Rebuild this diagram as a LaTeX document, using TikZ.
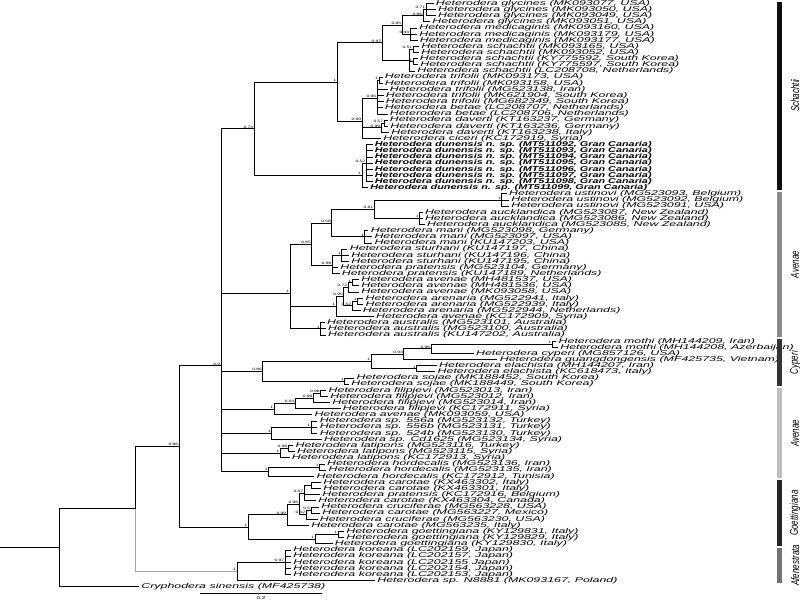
\documentclass[tikz,border=0pt]{standalone}
\usepackage{fontspec}
\setmainfont{Liberation Sans}
\newfontfamily\lf[FakeStretch=1.77]{Liberation Sans}
\newfontfamily\lfbf[FakeStretch=1.55]{Liberation Sans}
\newfontfamily\bsf[FakeStretch=1.5]{Liberation Sans}
\newfontfamily\gf{Liberation Sans}
\newcommand\Nd[4]{\coordinate (#1) at (#2,{Y(#3)}); \node[bs] (b#1) at (#1) {#4};}
\newcommand\Lf[3]{\coordinate (l#1) at (#2,{Y(#1)}); \node[lf] (t#1) at (l#1) {#3};}
\newcommand\Lb[3]{\coordinate (l#1) at (#2,{Y(#1)}); \node[lfb] (t#1) at (l#1) {#3};}
\begin{document}
\begin{tikzpicture}[x=1pt,y=-1pt,
  declare function={Y(\r)=3.5+6.14*(\r-1);},
  br/.style={line width=0.9pt},
  lf/.style={anchor=west, inner sep=0pt, xshift=2.2pt, font=\lf\itshape\fontsize{7}{7}\selectfont},
  lfb/.style={anchor=west, inner sep=0pt, xshift=2.2pt, font=\lfbf\bfseries\itshape\fontsize{7}{7}\selectfont},
  bs/.style={anchor=south east, inner sep=0pt, xshift=-0.6pt, yshift=0.5pt, font=\bsf\fontsize{3.3}{3.5}\selectfont},
  grp/.style={rotate=90, inner sep=0pt, font=\gf\itshape\fontsize{8}{8}\selectfont}]
\fill[white] (0,0) rectangle (800,600);
\useasboundingbox (0,0) rectangle (800,600);
% ---- internal nodes
\Nd{N071}{426}{2}{0.71}
\Nd{N086}{423}{3}{0.86}
\Nd{N094}{410}{6}{0.94}
\Nd{N085}{402}{4.5}{0.85}
\Nd{N051}{413}{8.5}{0.51}
\Nd{N1s}{413}{10.5}{1}
\Nd{Sch}{409}{10.3333}{}
\Nd{N097}{382}{7.4167}{0.97}
\Nd{n1314}{379}{13.5}{1}
\Nd{Ntb}{377}{16.4167}{0.96}
\Nd{N057}{384}{20.5}{0.57}
\Nd{Nd}{381}{21.25}{0.99}
\Nd{N099}{362}{20.2222}{0.99}
\Nd{S1}{337}{13.8194}{1}
\Nd{Dn2}{366}{27}{0.52}
\Nd{Dn}{362}{29}{1}
\Nd{S0}{254}{21.4097}{0.74}
\Nd{U}{501.6}{33}{1}
\Nd{Au}{419.5}{36}{1}
\Nd{N081}{374}{34.5}{0.81}
\Nd{Ma}{364.7}{39}{1}
\Nd{N058}{331.7}{36.75}{0.58}
\Nd{St}{341.6}{42}{1}
\Nd{SP}{332.1}{43.6667}{0.96}
\Nd{N065}{311.7}{40.2083}{0.65}
\Nd{Nav2}{352}{46.5}{1}
\Nd{N072}{348}{47.25}{0.72}
\Nd{Nar}{357.4}{49.5}{1}
\Nd{N052}{352}{50.25}{0.52}
\Nd{N095}{343.7}{48.75}{0.95}
\Nd{N1a}{336}{50.375}{1}
\Nd{Aus}{320.5}{54}{1}
\Nd{Av}{290}{48.1944}{1}
\Nd{Nmo}{552}{56.5}{1}
\Nd{Nmc}{431}{57.25}{0.96}
\Nd{N093}{403.7}{58.125}{0.93}
\Nd{Nel}{416.3}{60.5}{1}
\Nd{Ncy}{371}{59.3125}{1}
\Nd{Nsj}{344.7}{62.5}{1}
\Nd{Cy}{262.7}{60.9063}{0.86}
\Nd{N098f}{320.5}{64.5}{0.98}
\Nd{N096f}{313.2}{65.25}{0.96}
\Nd{N093f}{295.3}{66.125}{0.93}
\Nd{F}{274}{67.0625}{1}
\Nd{Nsp2}{311}{70}{1}
\Nd{Sp}{271.7}{71}{1}
\Nd{Nl2}{288}{73.5}{0.98}
\Nd{L}{280}{74.25}{1}
\Nd{Nh2}{319.5}{76.5}{1}
\Nd{H}{268.3}{77.25}{1}
\Nd{C}{221}{60.0104}{0.9}
\Nd{Nc1}{311}{79.5}{}
\Nd{N067}{304}{80.8333}{0.67}
\Nd{Nc2}{311}{83.5}{0.5}
\Nd{N05}{306}{84.25}{0.52}
\Nd{N096c}{299}{82.5417}{0.96}
\Nd{Ncar}{287}{84.2708}{0.99}
\Nd{Ng2}{338}{87.5}{1}
\Nd{Ngoe}{315}{88.25}{1}
\Nd{G}{248}{86.2604}{1}
\Nd{B}{179}{73.1354}{0.86}
\Nd{Nk}{285}{92}{0.97}
\Nd{K}{237}{93.5}{1}
\Nd{A}{135}{83.3177}{}
\Nd{root}{59}{89.6589}{}
\coordinate (r0) at (0,{Y(89.6589)});
% ---- leaves
\Lf{1}{433.5}{Heterodera glycines (MK093077, USA)}
\Lf{2}{435.8}{Heterodera glycines (MK093050, USA)}
\Lf{3}{435.8}{Heterodera glycines (MK093049, USA)}
\Lf{4}{430}{Heterodera glycines (MK093051, USA)}
\Lf{5}{417}{Heterodera medicaginis (MK093160, USA)}
\Lf{6}{417}{Heterodera medicaginis (MK093179, USA)}
\Lf{7}{417.5}{Heterodera medicaginis (MK093177, USA)}
\Lf{8}{419}{Heterodera schachtii (MK093165, USA)}
\Lf{9}{419}{Heterodera schachtii (MK093052, USA)}
\Lf{10}{417.5}{Heterodera schachtii (KY775592, South Korea)}
\Lf{11}{418}{Heterodera schachtii (KY775597, South Korea)}
\Lf{12}{415}{Heterodera schachtii (LC208708, Netherlands)}
\Lf{13}{382.5}{Heterodera trifolii (MK093173, USA)}
\Lf{14}{382.5}{Heterodera trifolii (MK093158, USA)}
\Lf{15}{387.5}{Heterodera trifolii (MG523138, Iran)}
\Lf{16}{383.5}{Heterodera trifolii (MK621904, South Korea)}
\Lf{17}{383.5}{Heterodera trifolii (MG682349, South Korea)}
\Lf{18}{382.5}{Heterodera betae (LC208707, Netherlands)}
\Lf{19}{387.5}{Heterodera betae (LC208706, Netherlands)}
\Lf{20}{387.5}{Heterodera daverti (KT163237, Germany)}
\Lf{21}{388}{Heterodera daverti (KT163236, Germany)}
\Lf{22}{389}{Heterodera daverti (KT163238, Italy)}
\Lf{23}{381}{Heterodera ciceri (KC172919, Syria)}
\Lb{24}{372.5}{Heterodera dunensis n. sp. (MT511092, Gran Canaria)}
\Lb{25}{372.5}{Heterodera dunensis n. sp. (MT511093, Gran Canaria)}
\Lb{26}{372.5}{Heterodera dunensis n. sp. (MT511094, Gran Canaria)}
\Lb{27}{372.5}{Heterodera dunensis n. sp. (MT511095, Gran Canaria)}
\Lb{28}{372.5}{Heterodera dunensis n. sp. (MT511096, Gran Canaria)}
\Lb{29}{372.5}{Heterodera dunensis n. sp. (MT511097, Gran Canaria)}
\Lb{30}{372.5}{Heterodera dunensis n. sp. (MT511098, Gran Canaria)}
\Lb{31}{368}{Heterodera dunensis n. sp. (MT511099, Gran Canaria)}
\Lf{32}{506.8}{Heterodera ustinovi (MG523093, Belgium)}
\Lf{33}{508.9}{Heterodera ustinovi (MG523092, Belgium)}
\Lf{34}{508.9}{Heterodera ustinovi (MG523091, USA)}
\Lf{35}{422.6}{Heterodera aucklandica (MG523087, New Zealand)}
\Lf{36}{422.6}{Heterodera aucklandica (MG523086, New Zealand)}
\Lf{37}{424.7}{Heterodera aucklandica (MG523085, New Zealand)}
\Lf{38}{368.4}{Heterodera mani (MG523098, Germany)}
\Lf{39}{372.1}{Heterodera mani (MG523097, USA)}
\Lf{40}{372.1}{Heterodera mani (KU147203, USA)}
\Lf{41}{347.4}{Heterodera sturhani (KU147197, China)}
\Lf{42}{348.9}{Heterodera sturhani (KU147196, China)}
\Lf{43}{348.9}{Heterodera sturhani (KU147195, China)}
\Lf{44}{337.9}{Heterodera pratensis (MG523104, Germany)}
\Lf{45}{339.5}{Heterodera pratensis (KU147189, Netherlands)}
\Lf{46}{358.9}{Heterodera avenae (MH481537, USA)}
\Lf{47}{358.9}{Heterodera avenae (MH481536, USA)}
\Lf{48}{358.9}{Heterodera avenae (MK093058, USA)}
\Lf{49}{363.2}{Heterodera arenaria (MG522941, Italy)}
\Lf{50}{363.2}{Heterodera arenaria (MG522939, Italy)}
\Lf{51}{360.5}{Heterodera arenaria (MG522944, Netherlands)}
\Lf{52}{373.7}{Heterodera avenae (KC172909, Syria)}
\Lf{53}{324.7}{Heterodera australis (MG523101, Australia)}
\Lf{54}{325.8}{Heterodera australis (MG523100, Australia)}
\Lf{55}{325.8}{Heterodera australis (KU147202, Australia)}
\Lf{56}{556.3}{Heterodera mothi (MH144209, Iran)}
\Lf{57}{557.9}{Heterodera mothi (MH144208, Azerbaijan)}
\Lf{58}{473.7}{Heterodera cyperi (MG857126, USA)}
\Lf{59}{497.4}{Heterodera guangdongensis (MF425735, Vietnam)}
\Lf{60}{436.8}{Heterodera elachista (MH144207, Iran)}
\Lf{61}{435.3}{Heterodera elachista (KC618473, Italy)}
\Lf{62}{354.2}{Heterodera sojae (MK188452, South Korea)}
\Lf{63}{348.9}{Heterodera sojae (MK188449, South Korea)}
\Lf{64}{326.3}{Heterodera filipjevi (MG523013, Iran)}
\Lf{65}{327.9}{Heterodera filipjevi (MG523012, Iran)}
\Lf{66}{330}{Heterodera filipjevi (MG523014, Iran)}
\Lf{67}{340.5}{Heterodera filipjevi (KC172911, Syria)}
\Lf{68}{312.1}{Heterodera avenae (MK093059, USA)}
\Lf{69}{317.4}{Heterodera sp. 556a (MG523132, Turkey)}
\Lf{70}{317.4}{Heterodera sp. 556b (MG523131, Turkey)}
\Lf{71}{317.4}{Heterodera sp. 524b (MG523130, Turkey)}
\Lf{72}{321.6}{Heterodera sp. Cd1625 (MG523134, Syria)}
\Lf{73}{293.2}{Heterodera latipons (MG523116, Turkey)}
\Lf{74}{294.7}{Heterodera latipons (MG523115, Syria)}
\Lf{75}{289.5}{Heterodera latipons (KC172913, Syria)}
\Lf{76}{324.7}{Heterodera hordecalis (MG523136, Iran)}
\Lf{77}{326.3}{Heterodera hordecalis (MG523135, Iran)}
\Lf{78}{314.2}{Heterodera hordecalis (KC172912, Tunisia)}
\Lf{79}{321}{Heterodera carotae (KX463302, Italy)}
\Lf{80}{321}{Heterodera carotae (KX463301, Italy)}
\Lf{81}{320}{Heterodera pratensis (KC172916, Belgium)}
\Lf{82}{316}{Heterodera carotae (KX463304, Canada)}
\Lf{83}{319}{Heterodera cruciferae (MG563228, USA)}
\Lf{84}{320}{Heterodera carotae (MG563227, Mexico)}
\Lf{85}{317.5}{Heterodera cruciferae (MG563230, USA)}
\Lf{86}{309}{Heterodera carotae (MG563235, Italy)}
\Lf{87}{344}{Heterodera goettingiana (KY129831, Italy)}
\Lf{88}{344}{Heterodera goettingiana (KY129829, Italy)}
\Lf{89}{332.5}{Heterodera goettingiana (KY129830, Italy)}
\Lf{90}{291}{Heterodera koreana (LC202159, Japan)}
\Lf{91}{291}{Heterodera koreana (LC202157, Japan)}
\Lf{92}{291}{Heterodera koreana (LC202155 Japan)}
\Lf{93}{291}{Heterodera koreana (LC202154, Japan)}
\Lf{94}{291}{Heterodera koreana (LC202153, Japan)}
\Lf{95}{375}{Heterodera sp. N8881 (MK093167, Poland)}
\Lf{96}{139}{Cryphodera sinensis (MF425738)}
% ---- branches
\draw[br] (r0) -- (root);
\foreach \p/\c in {root/A, root/l96, A/B, B/C, B/G,
  C/S0, C/Av, C/Cy, C/F, C/Sp, C/L, C/H,
  S0/S1, S0/Dn, S1/N097, S1/N099, N097/N085, N097/Sch,
  N085/N086, N085/N094, N086/N071, N086/l4, N071/l1, N071/l2, N071/l3,
  N094/l5, N094/l6, N094/l7, Sch/N051, Sch/N1s, Sch/l12,
  N051/l8, N051/l9, N1s/l10, N1s/l11,
  N099/Ntb, N099/Nd, N099/l23, Ntb/n1314, Ntb/l15, Ntb/l16, Ntb/l17, Ntb/l18, Ntb/l19,
  n1314/l13, n1314/l14, Nd/N057, Nd/l22, N057/l20, N057/l21,
  Dn/Dn2, Dn/l31, Dn2/l24, Dn2/l25, Dn2/l26, Dn2/l27, Dn2/l28, Dn2/l29, Dn2/l30,
  Av/N065, Av/N1a, Av/Aus, N065/N058, N065/SP, N058/N081, N058/Ma,
  N081/U, N081/Au, U/l32, U/l33, U/l34, Au/l35, Au/l36, Au/l37,
  Ma/l38, Ma/l39, Ma/l40, SP/St, SP/l44, SP/l45, St/l41, St/l42, St/l43,
  N1a/N095, N1a/l52, N095/N072, N095/N052, N072/Nav2, N072/l48, Nav2/l46, Nav2/l47,
  N052/Nar, N052/l51, Nar/l49, Nar/l50, Aus/l53, Aus/l54, Aus/l55,
  Cy/Ncy, Cy/Nsj, Ncy/N093, Ncy/Nel, N093/Nmc, N093/l59, Nmc/Nmo, Nmc/l58,
  Nmo/l56, Nmo/l57, Nel/l60, Nel/l61, Nsj/l62, Nsj/l63,
  F/N093f, F/l68, N093f/N096f, N093f/l67, N096f/N098f, N096f/l66, N098f/l64, N098f/l65,
  Sp/Nsp2, Sp/l72, Nsp2/l69, Nsp2/l70, Nsp2/l71,
  L/Nl2, L/l75, Nl2/l73, Nl2/l74, H/Nh2, H/l78, Nh2/l76, Nh2/l77,
  G/Ncar, G/Ngoe, Ncar/N096c, Ncar/l86, N096c/N067, N096c/N05,
  N067/Nc1, N067/l81, N067/l82, Nc1/l79, Nc1/l80, N05/Nc2, N05/l85, Nc2/l83, Nc2/l84,
  Ngoe/Ng2, Ngoe/l89, Ng2/l87, Ng2/l88,
  K/Nk, K/l95, Nk/l90, Nk/l91, Nk/l92, Nk/l93, Nk/l94}
  \draw[br] (\p) |- (\c);
\draw[br, gray!70] (A) |- (K);
% ---- scale bar
\coordinate (sbL) at (200,593);
\coordinate (sbR) at (322,593);
\draw[br] (sbL) -- (sbR);
\node[inner sep=0pt, font=\bsf\fontsize{4.2}{4.2}\selectfont] (sbt) at (261,597.8) {0.2};
% ---- group bars
\fill[black!95] (776.5,1.5) rectangle (782,189.7);
\fill[black!45] (776.5,191.8) rectangle (782,337.1);
\fill[black!80] (776.5,339.2) rectangle (782,386.2);
\fill[black!25] (776.5,388.3) rectangle (782,478.3);
\fill[black!85] (776.5,480.4) rectangle (782,545.8);
\fill[black!55] (776.5,548) rectangle (782,582.7);
\node[grp] (g1) at (795,95.6) {\scalebox{1}[1.4]{Schachtii}};
\node[grp] (g2) at (795,264.5) {\scalebox{1}[1.4]{Avenae}};
\node[grp] (g3) at (795,362.7) {\scalebox{1}[1.4]{Cyperi}};
\node[grp] (g4) at (795,433.3) {\scalebox{1}[1.4]{Avenae}};
\node[grp] (g5) at (795,513.1) {\scalebox{1}[1.4]{Goettingiana}};
\node[grp] (g6) at (795,565.3) {\scalebox{1}[1.4]{Afenestrata}};
\end{tikzpicture}
\end{document}
